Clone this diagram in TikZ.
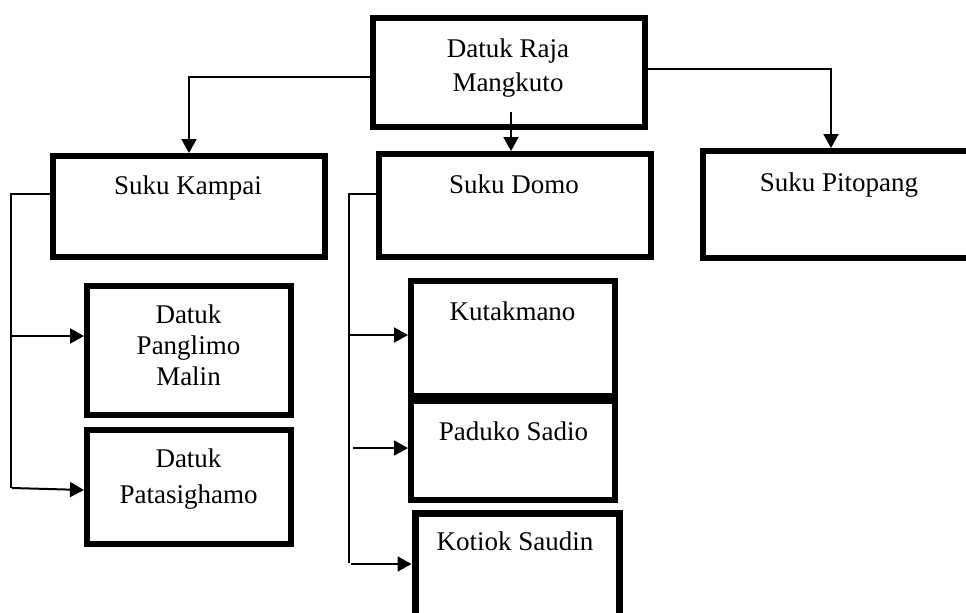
\documentclass[tikz,border=0pt]{standalone}
\usepackage{fontspec}
\setmainfont{Liberation Serif}
\usetikzlibrary{positioning,arrows.meta}

\tikzset{
  box/.style={draw, line width=3pt, inner sep=0pt},
  conn/.style={-{Triangle[length=7pt,width=7.5pt]}, line width=1pt},
  bus/.style={line width=0.8pt},
  lbl/.style={inner sep=0pt, font=\fontsize{13.5}{17}\selectfont}
}

\begin{document}
\begin{tikzpicture}[x=0.5pt,y=-0.5pt]
\clip (0,0) rectangle (966,612);
\fill[white] (0,0) rectangle (966,612);

% boxes
\node[box, minimum width=136pt, minimum height=54.5pt] (raja) at (509,72.5) {};
\node[box, minimum width=136pt, minimum height=50.5pt] (kampai) at (189,206.5) {};
\node[box, minimum width=136pt, minimum height=51.5pt] (domo) at (515,205.5) {};
\node[box, minimum width=135pt, minimum height=53.5pt] (pitopang) at (838,204.5) {};
\node[box, minimum width=102pt, minimum height=64.5pt] (panglimo) at (189,350.5) {};
\node[box, minimum width=102pt, minimum height=57pt] (patasi) at (189,487) {};
\node[box, minimum width=102pt, minimum height=57.5pt] (kutak) at (513,338.5) {};
\node[box, minimum width=102pt, minimum height=49.5pt] (paduko) at (513,450.5) {};
\node[box, line width=3.5pt, minimum width=102pt, minimum height=56pt] (kotiok) at (517,569) {};

% texts
\node[lbl, anchor=north, align=center] (rajaT) at (508,38.5) {Datuk Raja\\Mangkuto};
\node[lbl, anchor=base] (kampaiT) at (188,194) {Suku Kampai};
\node[lbl, anchor=base] (domoT) at (514,193) {Suku Domo};
\node[lbl, anchor=base] (pitopangT) at (839,191) {Suku Pitopang};
\node[lbl, anchor=north, align=center, font=\fontsize{13.5}{15.5}\selectfont] (panglimoT) at (188.5,304.5) {Datuk\\Panglimo\\Malin};
\node[lbl, anchor=north, align=center, font=\fontsize{13.5}{18}\selectfont] (patasiT) at (188.5,448.5) {Datuk\\Patasighamo};
\node[lbl, anchor=base] (kutakT) at (512.5,320) {Kutakmano};
\node[lbl, anchor=base] (padukoT) at (513.5,440) {Paduko Sadio};
\node[lbl, anchor=base] (kotiokT) at (515,550) {Kotiok Saudin};

% top level
\draw[conn] ([yshift=-2.25pt]raja.west) -| (kampai.north);
\draw[conn] ([yshift=1.75pt]raja.east) -| ([xshift=-3.5pt]pitopang.north);
\coordinate (rajaS) at (511,112);
\draw[conn] (rajaS) -- (rajaS |- domo.north);

% Suku Kampai
\coordinate (kampaiBus) at (11,488);
\draw[bus] ([yshift=6.25pt]kampai.west) -| (kampaiBus);
\coordinate (k1) at (11,336);
\draw[conn] (k1) -- (k1 -| panglimo.west);
\coordinate (k2) at (12,488);
\draw[conn] (k2) -- ([yshift=-1.5pt]patasi.west);

% Suku Domo
\coordinate (domoBus) at (349,563);
\draw[bus] ([yshift=5.75pt]domo.west) -| (domoBus);
\coordinate (d1) at (349,335);
\draw[conn] (d1) -- (d1 -| kutak.west);
\coordinate (d2) at (353,448);
\draw[conn] (d2) -- (d2 -| paduko.west);
\coordinate (d3) at (351,564);
\draw[conn] (d3) -- (d3 -| kotiok.west);
\end{tikzpicture}
\end{document}
